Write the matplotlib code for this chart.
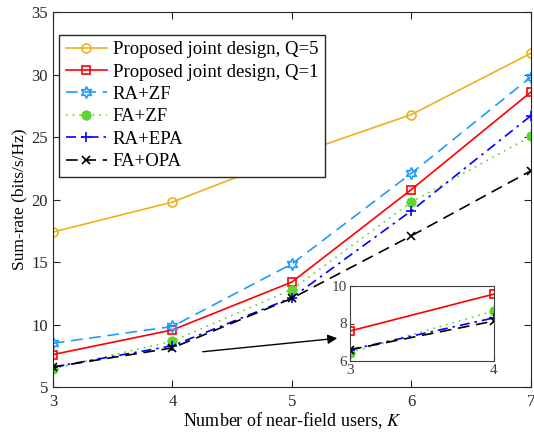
import matplotlib
matplotlib.use("Agg")
import matplotlib.pyplot as plt
from matplotlib.patches import FancyArrowPatch

plt.rcParams['font.family'] = ['Liberation Serif', 'DejaVu Serif']
plt.rcParams['mathtext.fontset'] = 'stix'

K = [3, 4, 5, 6, 7]
q5 = [17.4, 19.8, 23.5, 26.8, 31.7]
q1 = [7.6, 9.57, 13.4, 20.8, 28.6]
ra_zf = [8.5, 9.85, 14.85, 22.1, 29.8]
fa_zf = [6.45, 8.67, 12.8, 19.8, 25.05]
ra_epa = [6.6, 8.3, 12.15, 19.1, 26.7]
fa_opa = [6.6, 8.13, 12.1, 17.1, 22.3]
labels = ['Proposed joint design, Q=5', 'Proposed joint design, Q=1',
          'RA+ZF', 'FA+ZF', 'RA+EPA', 'FA+OPA']

star6 = (6, 1, 0)
styles = [
    dict(color='#EDB120', ls='-', marker='o', mfc='none', ms=6.5),
    dict(color='#FF0000', ls='-', marker='s', mfc='none', ms=6),
    dict(color='#1E9BFF', ls=(0, (7, 4)), marker=star6, mfc='none', ms=8.5),
    dict(color='#5CD62E', ls=(0, (1, 3)), marker=(8, 2, 0), mfc='none', ms=7, mew=2),
    dict(color='#0000FF', ls=(0, (6, 3, 1.5, 3)), marker='+', mfc='none', ms=7.5),
    dict(color='#000000', ls=(0, (7, 4)), marker='x', mfc='none', ms=6),
]
series = [q5, q1, ra_zf, fa_zf, ra_epa, fa_opa]

fig = plt.figure(figsize=(5.34, 4.32), dpi=100)
ax = fig.add_axes([0.099, 0.104, 0.895, 0.868])
for y, st, lab in zip(series, styles, labels):
    kw = dict(st)
    ax.plot(K, y, label=lab, lw=1.2, mew=kw.pop('mew', 1.2), **kw)

ax.set_xlim(3, 7)
ax.set_ylim(5, 35)
ax.set_xticks(K)
ax.set_yticks(range(5, 36, 5))
ax.tick_params(direction='in', top=True, right=True, labelsize=12, colors='#262626', length=5)
ax.tick_params(axis='x', pad=5)
for s in ax.spines.values():
    s.set_color('#262626')
ax.set_xlabel('Number of near-field users, $K$', fontsize=13, labelpad=0)
ax.set_ylabel('Sum-rate (bits/s/Hz)', fontsize=12.5, labelpad=3)

leg = ax.legend(loc='upper left', bbox_to_anchor=(0.013, 0.94), fontsize=13.5,
                frameon=True, fancybox=False, edgecolor='#262626', framealpha=1,
                handlelength=2.2, borderpad=0.35, labelspacing=0.28, handletextpad=0.3,
                borderaxespad=0)
leg.get_frame().set_linewidth(1.0)

# inset
iax = fig.add_axes([350/534, 1 - 361/432, 144/534, 75/432])
for y, st in zip(series[1:], styles[1:]):
    if y is ra_zf:
        continue
    kw = dict(st)
    iax.plot(K[:2], y[:2], lw=1.2, mew=kw.pop('mew', 1.2), **kw)
iax.set_xlim(3, 4)
iax.set_ylim(6, 10)
iax.set_xticks([3, 4])
iax.set_yticks([6, 8, 10])
iax.tick_params(direction='in', labelsize=11, colors='#404040', length=3, pad=2)
for s in iax.spines.values():
    s.set_color('#404040')

arr = FancyArrowPatch((200/534, 1 - 352/432), (340/534, 1 - 338/432),
                      transform=fig.transFigure, arrowstyle='-|>', mutation_scale=14,
                      color='black', lw=1.0)
fig.patches.append(arr)

fig.savefig('out.png', dpi=100)
